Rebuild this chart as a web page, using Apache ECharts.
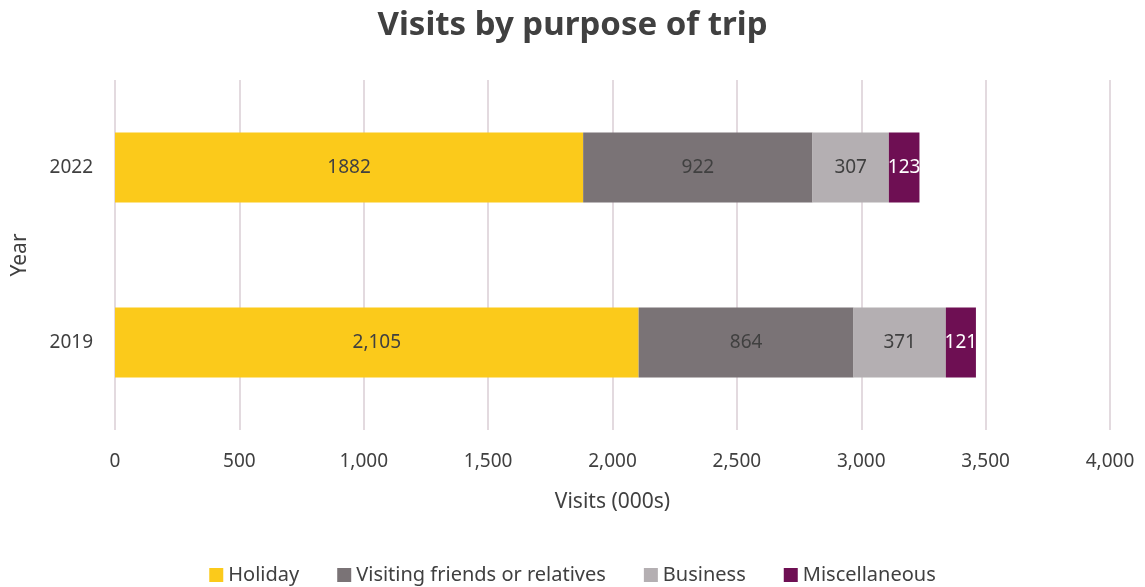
<!DOCTYPE html>
<html><head><meta charset="utf-8">
<script src="https://cdn.jsdelivr.net/npm/echarts@6/dist/echarts.min.js"></script>
<style>html,body{margin:0;padding:0;background:#fff}#c{width:1145px;height:587px}</style>
</head><body><div id="c"></div>
<script>
var years = ['2019', '2022'];
var holiday = [2105, 1882];
var holidayLabels = ['2,105', '1882'];
var vfr = [864, 922];
var business = [371, 307];
var misc = [121, 123];
var xTicks = [0, 500, 1000, 1500, 2000, 2500, 3000, 3500, 4000];

var FONT = '"Noto Sans", "Open Sans", sans-serif';
var TXT = '#404040';
function fmt(v){ return String(v).replace(/\B(?=(\d{3})+(?!\d))/g, ','); }
function mk(name, data, color, labelColor, labels){
  return {
    name: name, type: 'bar', stack: 'total', data: data, barWidth: '40%',
    itemStyle: {color: color},
    label: {show: true, position: 'inside', color: labelColor, fontSize: 19, fontFamily: FONT,
      formatter: function(p){ return labels ? labels[p.dataIndex] : fmt(p.value); }},
    emphasis: {disabled: true}
  };
}
var chart = echarts.init(document.getElementById('c'));
chart.setOption({
  animation: false,
  textStyle: {fontFamily: FONT},
  title: {text: 'Visits by purpose of trip', left: 'center', top: 4,
    textStyle: {fontSize: 33, fontWeight: 'bold', color: TXT, fontFamily: FONT}},
  grid: {left: 115, right: 35, top: 80, bottom: 157},
  legend: {top: 560, left: 'center', itemWidth: 14, itemHeight: 14, itemGap: 38,
    icon: 'rect', textStyle: {fontSize: 20, color: TXT, fontFamily: FONT}},
  xAxis: {type: 'value', min: xTicks[0], max: xTicks[xTicks.length-1], interval: 500,
    name: 'Visits (000s)', nameLocation: 'middle', nameGap: 62,
    nameTextStyle: {fontSize: 21, color: TXT},
    axisLabel: {fontSize: 19, color: TXT, margin: 22, formatter: function(v){ return fmt(v); }},
    axisLine: {show: false}, axisTick: {show: false},
    splitLine: {show: true, lineStyle: {color: '#E3DADF', width: 2}}},
  yAxis: {type: 'category', data: years,
    name: 'Year', nameLocation: 'middle', nameGap: 84, nameRotate: 90,
    nameTextStyle: {fontSize: 21, color: TXT},
    axisLabel: {fontSize: 19, color: TXT, margin: 22},
    axisLine: {show: false}, axisTick: {show: false}},
  series: [
    mk('Holiday', holiday, '#FBCA1B', TXT, holidayLabels),
    mk('Visiting friends or relatives', vfr, '#7A7376', TXT),
    mk('Business', business, '#B4AFB2', TXT),
    mk('Miscellaneous', misc, '#6E0F53', '#ffffff')
  ]
});
</script></body></html>
